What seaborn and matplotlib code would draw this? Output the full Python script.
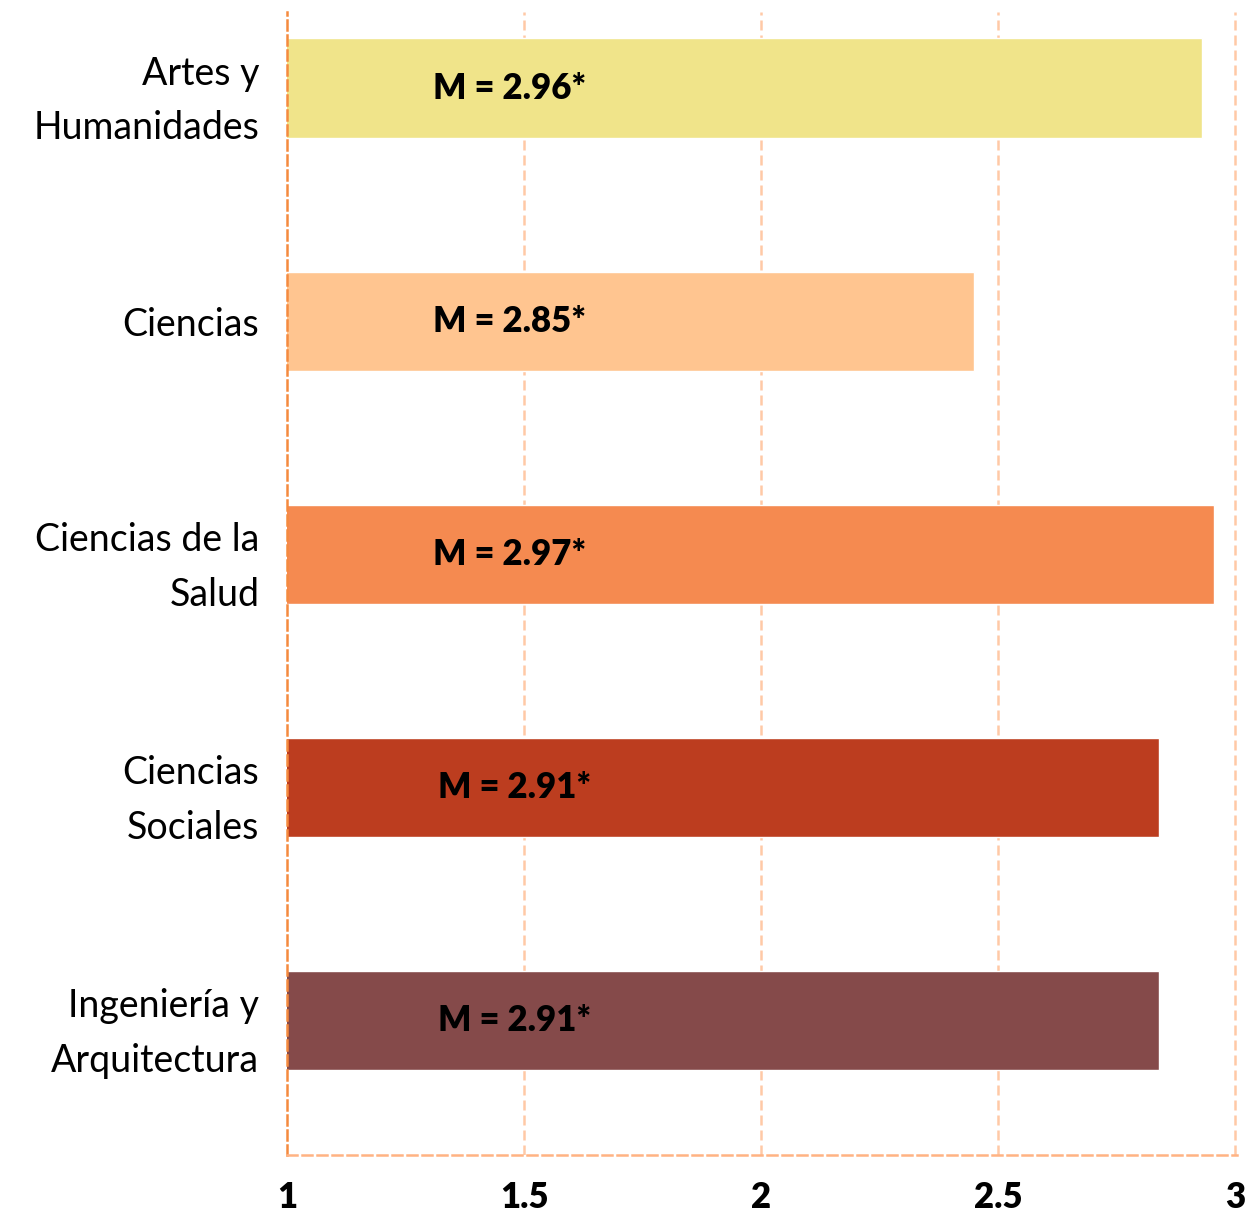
import matplotlib
matplotlib.use("Agg")
import matplotlib.pyplot as plt
import numpy as np
import pandas as pd
import seaborn as sns

# data
areas = ["Artes y\nHumanidades", "Ciencias", "Ciencias de la\nSalud",
         "Ciencias\nSociales", "Ingeniería y\nArquitectura"]
bar_values = [2.93, 2.45, 2.955, 2.84, 2.84]
mean_labels = ["M = 2.96*", "M = 2.85*", "M = 2.97*", "M = 2.91*", "M = 2.91*"]
colors = ["#F0E48A", "#FFC590", "#F58A50", "#BC3D1F", "#854A4A"]
xticks = [1, 1.5, 2, 2.5, 3]
xtick_labels = ["1", "1.5", "2", "2.5", "3"]

sns.set_style("white")
plt.rcParams["font.family"] = ["Lato", "DejaVu Sans"]

df = pd.DataFrame({"area": areas, "value": bar_values})

fig = plt.figure(figsize=(12.47, 12.14), dpi=100)
ax = fig.add_axes([0.2302, 0.0486, 0.7618, 0.9415])

sns.barplot(data=df, x="value", y="area", hue="area", palette=colors,
            orient="h", width=0.425, legend=False, saturation=1, ax=ax)

ax.set_xlim(1, 3.004)
ax.set_ylim(4.575, -0.326)

grid_kw = dict(color="#FFC9A6", linewidth=1.8, dashes=(4, 2), zorder=0)
for xv in xticks[1:]:
    ax.axvline(xv, **grid_kw)
for p in ax.patches:
    p.set_zorder(2)

for sp in ["top", "right"]:
    ax.spines[sp].set_visible(False)
ax.spines["left"].set_color("#F58A3E")
ax.spines["left"].set_linewidth(1.8)
ax.spines["left"].set_linestyle((0, (4, 2)))
ax.spines["bottom"].set_color("#FFB383")
ax.spines["bottom"].set_linewidth(1.8)
ax.spines["bottom"].set_linestyle((0, (4, 2)))

for i, lab in enumerate(mean_labels):
    xpos = 1.307 if i < 3 else 1.318
    ax.text(xpos, i, lab, ha="left", va="center", fontsize=25,
            fontweight="heavy", color="black", zorder=3)

ax.set_xticks(xticks)
ax.set_xticklabels(xtick_labels, fontsize=25, fontweight="heavy", color="black")
ax.tick_params(axis="x", length=0, pad=19)
ax.tick_params(axis="y", length=0, pad=20)
for t in ax.get_yticklabels():
    t.set_fontsize(27)
    t.set_fontweight("normal")
    t.set_color("black")
    t.set_linespacing(1.65)
ax.set_xlabel("")
ax.set_ylabel("")

fig.savefig("out.png", dpi=100)
